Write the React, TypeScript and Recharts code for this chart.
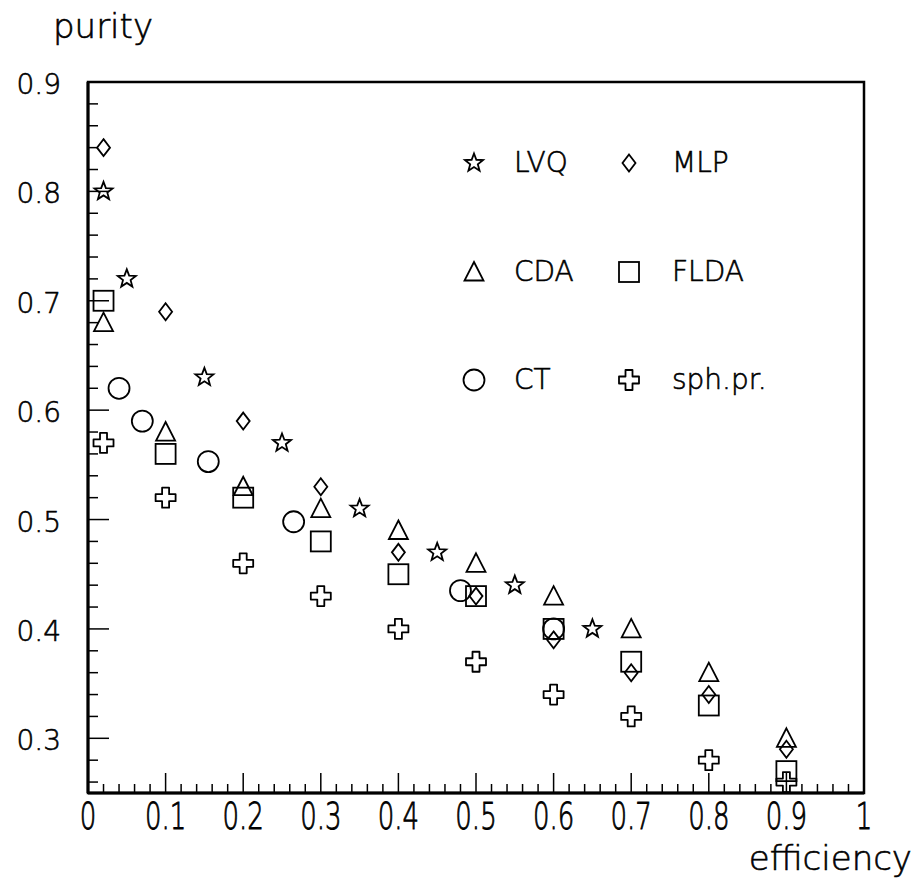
import { Legend, ReferenceArea, Scatter, ScatterChart, XAxis, YAxis } from 'recharts';

// efficiency / purity, one pair of arrays per method
const lvqEff = [0.02, 0.05, 0.15, 0.25, 0.35, 0.45, 0.55, 0.65];
const lvqPur = [0.8, 0.72, 0.63, 0.57, 0.51, 0.47, 0.44, 0.4];

const mlpEff = [0.02, 0.1, 0.2, 0.3, 0.4, 0.5, 0.6, 0.7, 0.8, 0.9];
const mlpPur = [0.84, 0.69, 0.59, 0.53, 0.47, 0.43, 0.39, 0.36, 0.34, 0.29];

const cdaEff = [0.02, 0.1, 0.2, 0.3, 0.4, 0.5, 0.6, 0.7, 0.8, 0.9];
const cdaPur = [0.68, 0.58, 0.53, 0.51, 0.49, 0.46, 0.43, 0.4, 0.36, 0.3];

const fldaEff = [0.02, 0.1, 0.2, 0.3, 0.4, 0.5, 0.6, 0.7, 0.8, 0.9];
const fldaPur = [0.7, 0.56, 0.52, 0.48, 0.45, 0.43, 0.4, 0.37, 0.33, 0.27];

const ctEff = [0.04, 0.07, 0.155, 0.265, 0.48, 0.6];
const ctPur = [0.62, 0.59, 0.553, 0.498, 0.435, 0.4];

const sphEff = [0.02, 0.1, 0.2, 0.3, 0.4, 0.5, 0.6, 0.7, 0.8, 0.9];
const sphPur = [0.57, 0.52, 0.46, 0.43, 0.4, 0.37, 0.34, 0.32, 0.28, 0.26];

// legend reads row by row: LVQ MLP / CDA FLDA / CT sph.pr.
const methods = ['LVQ', 'MLP', 'CDA', 'FLDA', 'CT', 'sph.pr.'];

const xMajor = [0, 0.1, 0.2, 0.3, 0.4, 0.5, 0.6, 0.7, 0.8, 0.9, 1];
const xLabels = ['0', '0.1', '0.2', '0.3', '0.4', '0.5', '0.6', '0.7', '0.8', '0.9', '1'];
const yMajor = [0.3, 0.4, 0.5, 0.6, 0.7, 0.8, 0.9];
const yLabels = ['0.3', '0.4', '0.5', '0.6', '0.7', '0.8', '0.9'];

const FONT = "'DejaVu Sans', sans-serif";
const FW = 300;
const TS = 0.6; // a little stroke to thicken the light face
const SW = 1.8;

// minor ticks every 0.02
const steps = (from: number, to: number) => {
  const out: number[] = [];
  for (let i = Math.round(from * 50); i <= Math.round(to * 50); i++) out.push(i / 50);
  return out;
};
const xTicks = steps(0, 1);
const yTicks = steps(0.26, 0.9);

const pts = (xs: number[], ys: number[]) => xs.map((x, i) => ({ x, y: ys[i] }));

const majorIdx = (list: number[], v: number) => list.findIndex((m) => Math.abs(m - v) < 1e-6);

const Star = ({ cx, cy }: any) => {
  const p: string[] = [];
  for (let k = 0; k < 10; k++) {
    const a = ((-90 + k * 36) * Math.PI) / 180;
    const r = k % 2 === 0 ? 9.5 : 4;
    p.push(`${cx + r * Math.cos(a)},${cy + r * Math.sin(a)}`);
  }
  return <polygon points={p.join(' ')} fill="none" stroke="#000" strokeWidth={SW} />;
};
const Diamond = ({ cx, cy }: any) => (
  <polygon
    points={`${cx},${cy - 8.5} ${cx + 6.5},${cy} ${cx},${cy + 8.5} ${cx - 6.5},${cy}`}
    fill="none"
    stroke="#000"
    strokeWidth={SW}
  />
);
const Triangle = ({ cx, cy }: any) => (
  <polygon
    points={`${cx},${cy - 10} ${cx + 9.5},${cy + 8.5} ${cx - 9.5},${cy + 8.5}`}
    fill="none"
    stroke="#000"
    strokeWidth={SW}
  />
);
const Square = ({ cx, cy }: any) => (
  <rect x={cx - 10} y={cy - 10} width={20} height={20} fill="none" stroke="#000" strokeWidth={SW} />
);
const Ring = ({ cx, cy }: any) => <circle cx={cx} cy={cy} r={10.5} fill="none" stroke="#000" strokeWidth={SW} />;
const Cross = ({ cx, cy }: any) => {
  const a = 3.5;
  const b = 10;
  const d = `M${cx - a},${cy - b}H${cx + a}V${cy - a}H${cx + b}V${cy + a}H${cx + a}V${cy + b}H${cx - a}V${cy + a}H${cx - b}V${cy - a}H${cx - a}Z`;
  return <path d={d} fill="none" stroke="#000" strokeWidth={SW} strokeLinejoin="round" />;
};

const shapes: Record<string, any> = {
  LVQ: Star,
  MLP: Diamond,
  CDA: Triangle,
  FLDA: Square,
  CT: Ring,
  'sph.pr.': Cross,
};

const XTick = ({ x, y, payload }: any) => {
  const i = majorIdx(xMajor, payload.value);
  const len = i >= 0 ? 20 : 9;
  return (
    <g>
      <line x1={x} x2={x} y1={y} y2={y - len} stroke="#000" strokeWidth={1.5} />
      {i >= 0 && (
        <text
          transform={`translate(${x},${y + 36}) scale(1,1.45)`}
          textAnchor="middle"
          fontFamily={FONT}
          fontWeight={FW}
          fontSize={26}
          fill="#000"
          stroke="#000"
          strokeWidth={TS}
        >
          {xLabels[i]}
        </text>
      )}
    </g>
  );
};

const YTick = ({ x, y, payload }: any) => {
  const i = majorIdx(yMajor, payload.value);
  const len = i >= 0 ? 21 : 10;
  return (
    <g>
      <line x1={x} x2={x + len} y1={y} y2={y} stroke="#000" strokeWidth={1.5} />
      {i >= 0 && (
        <text
          x={x - 27}
          y={y + 12}
          textAnchor="end"
          fontFamily={FONT}
          fontWeight={FW}
          fontSize={28}
          fill="#000"
          stroke="#000"
          strokeWidth={TS}
        >
          {yLabels[i]}
        </text>
      )}
    </g>
  );
};

const LegendGrid = ({ payload }: any) => {
  const entries = [...(payload || [])].sort((a: any, b: any) => methods.indexOf(a.value) - methods.indexOf(b.value));
  return (
    <div style={{ position: 'relative', width: 320, height: 260 }}>
      {entries.map((entry: any, i: number) => {
        const Shape = shapes[entry.value];
        const col = i % 2;
        const row = Math.floor(i / 2);
        return (
          <div
            key={entry.value}
            style={{ position: 'absolute', left: col * 155, top: row * 108.5, height: 24, display: 'flex', alignItems: 'center' }}
          >
            <svg width={24} height={24}>
              <Shape cx={12} cy={12} />
            </svg>
            <span
              style={{
                marginLeft: 28 + col * 3,
                fontFamily: FONT,
                fontWeight: FW,
                fontSize: 28,
                color: '#000',
                lineHeight: '24px',
                WebkitTextStroke: `${TS}px #000`,
              }}
            >
              {entry.value}
            </span>
          </div>
        );
      })}
    </div>
  );
};

const series = methods.map((name, k) => {
  const cols = [
    [lvqEff, lvqPur],
    [mlpEff, mlpPur],
    [cdaEff, cdaPur],
    [fldaEff, fldaPur],
    [ctEff, ctPur],
    [sphEff, sphPur],
  ][k];
  return { name, data: pts(cols[0], cols[1]) };
});

const PurityChart = () => {
  return (
    <div style={{ position: 'absolute', left: 0, top: 0, width: 920, height: 893, background: '#fff' }}>
      <ScatterChart width={920} height={893} margin={{ top: 82, right: 56, bottom: 0, left: 0 }}>
        <XAxis
          type="number"
          dataKey="x"
          domain={[0, 1]}
          ticks={xTicks}
          interval={0}
          tickSize={0}
          tickMargin={0}
          tickLine={false}
          tick={XTick}
          height={100}
          axisLine={{ stroke: '#000', strokeWidth: 3 }}
          allowDataOverflow
          label={{
            content: (p: any) => (
              <text
                x={p.viewBox.x + p.viewBox.width + 48}
                y={p.viewBox.y + 77}
                textAnchor="end"
                fontFamily={FONT}
                fontWeight={FW}
                fontSize={34}
                fill="#000"
                stroke="#000"
                strokeWidth={TS}
              >
                efficiency
              </text>
            ),
          }}
        />
        <YAxis
          type="number"
          dataKey="y"
          domain={[0.25, 0.9]}
          ticks={yTicks}
          interval={0}
          tickSize={0}
          tickMargin={0}
          tickLine={false}
          tick={YTick}
          width={88}
          axisLine={{ stroke: '#000', strokeWidth: 3 }}
          allowDataOverflow
          label={{
            content: (p: any) => (
              <text
                x={53}
                y={p.viewBox.y - 44}
                fontFamily={FONT}
                fontWeight={FW}
                fontSize={34}
                fill="#000"
                stroke="#000"
                strokeWidth={TS}
              >
                purity
              </text>
            ),
          }}
        />
        <ReferenceArea x1={0} x2={1} y1={0.25} y2={0.9} fill="none" stroke="#000" strokeWidth={2.5} />
        <Legend
          layout="horizontal"
          align="center"
          verticalAlign="middle"
          content={LegendGrid}
          wrapperStyle={{ position: 'absolute', left: 462, top: 151, width: 320, height: 260 }}
        />
        {series.map((s) => {
          const Shape = shapes[s.name];
          return (
            <Scatter
              key={s.name}
              name={s.name}
              data={s.data}
              isAnimationActive={false}
              shape={(p: any) => <Shape cx={p.cx} cy={p.cy} />}
            />
          );
        })}
      </ScatterChart>
    </div>
  );
};

export default PurityChart;
